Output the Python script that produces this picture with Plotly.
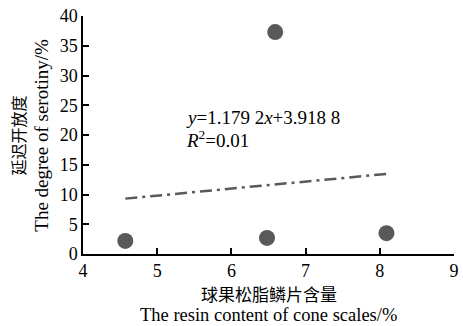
import plotly.graph_objects as go

# Resin content of cone scales (%) and degree of serotiny (%)
resin_content = [4.57, 6.48, 6.59, 8.09]
serotiny = [2.2, 2.7, 37.3, 3.5]

# Linear fit reported on the chart
slope = 1.1792
intercept = 3.9188
r_squared = 0.01

x_ticks = [4, 5, 6, 7, 8, 9]
y_ticks = [0, 5, 10, 15, 20, 25, 30, 35, 40]

fit_x = [min(resin_content), max(resin_content)]
fit_y = [slope * v + intercept for v in fit_x]

serif = "Liberation Serif, Times New Roman, serif"
cjk = "Noto Sans CJK SC"
grey = "#595959"

fig = go.Figure()
fig.add_trace(go.Scatter(
    x=fit_x, y=fit_y, mode="lines",
    line=dict(color=grey, width=2.5, dash="12px,5px,3px,5px"),
    showlegend=False, hoverinfo="skip",
))
fig.add_trace(go.Scatter(
    x=resin_content, y=serotiny, mode="markers",
    marker=dict(color=grey, size=16),
    showlegend=False,
))

fig.add_annotation(
    x=5.36, y=22.9, xref="x", yref="y", xanchor="left", yanchor="middle",
    text="<i>y</i>=1.179 2<i>x</i>+3.918 8",
    showarrow=False, font=dict(family=serif, size=19, color="black"),
)
fig.add_annotation(
    x=5.36, y=19.4, xref="x", yref="y", xanchor="left", yanchor="middle",
    text=f"<i>R</i><sup>2</sup>={r_squared:.2f}",
    showarrow=False, font=dict(family=serif, size=19, color="black"),
)

# Two-line axis titles: Chinese on top, English beneath
fig.add_annotation(
    x=0.5, y=-0.168, xref="paper", yref="paper", xanchor="center", yanchor="middle",
    text="球果松脂鳞片含量", showarrow=False, height=19,
    font=dict(family=cjk, size=17, color="black"),
)
fig.add_annotation(
    x=0.5, y=-0.256, xref="paper", yref="paper", xanchor="center", yanchor="middle",
    text="The resin content of cone scales/%", showarrow=False, height=19,
    font=dict(family=serif, size=18.5, color="black"),
)
fig.add_annotation(
    x=-0.174, y=0.5, xref="paper", yref="paper", xanchor="center", yanchor="middle",
    text="延迟开放度", showarrow=False, textangle=-90,
    font=dict(family=cjk, size=16, color="black"),
)
fig.add_annotation(
    x=-0.114, y=0.5, xref="paper", yref="paper", xanchor="center", yanchor="middle",
    text="The degree of serotiny/%", showarrow=False, textangle=-90,
    font=dict(family=serif, size=19, color="black"),
)

axis_common = dict(
    showgrid=False, zeroline=False, showline=True, linecolor="black", linewidth=1.5,
    ticks="inside", ticklen=6, tickwidth=1.5, tickcolor="black",
    tickfont=dict(family=serif, size=18, color="black"),
    ticklabeloverflow="allow",
)
fig.update_xaxes(range=[4, 9], tickvals=x_ticks, **axis_common)
fig.update_yaxes(range=[0, 40], tickvals=y_ticks, **axis_common)

fig.update_layout(
    width=463, height=326,
    margin=dict(l=83, r=4, t=16, b=72),
    plot_bgcolor="white", paper_bgcolor="white",
)

fig.write_html("out.html")
